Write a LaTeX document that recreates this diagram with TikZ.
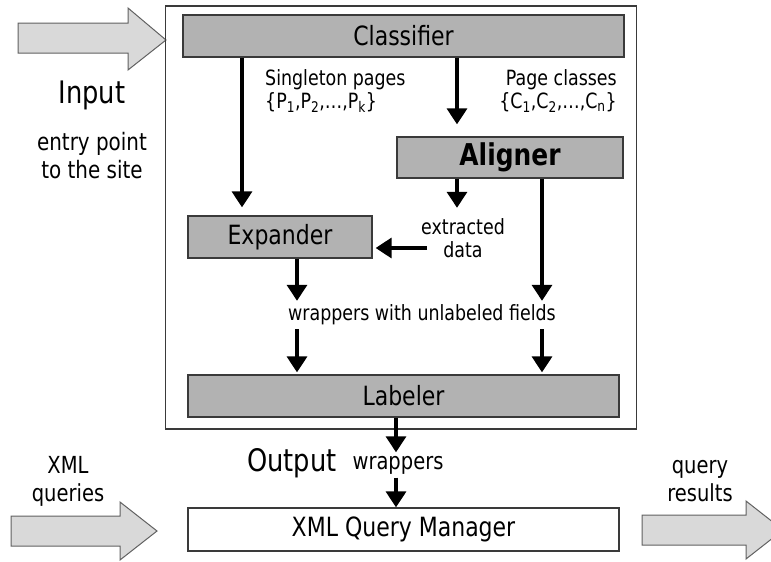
\documentclass[tikz,border=0pt]{standalone}
\usepackage{fontspec}
\setmainfont{DejaVu Sans}[FakeStretch=0.83]
\usetikzlibrary{arrows.meta}
\definecolor{boxgray}{HTML}{B2B2B2}
\definecolor{arrgray}{HTML}{D9D9D9}
\definecolor{edgec}{HTML}{3A3A3A}
\begin{document}
\begin{tikzpicture}[x=1pt,y=-1pt,
  proc/.style={draw=edgec, line width=1.3pt, fill=boxgray, inner sep=0pt, font=\fontsize{26.5}{30}\selectfont},
  arr/.style={line width=3.5pt, -{Triangle[width=20pt,length=16pt]}},
  lbl/.style={inner sep=0pt, font=\fontsize{21}{23}\selectfont},
  side/.style={inner sep=0pt, align=center, font=\fontsize{23.5}{28}\selectfont},
  bigtext/.style={inner sep=0pt, font=\fontsize{31}{34}\selectfont},
  big/.style={draw=edgec!80, line width=1pt, fill=arrgray}]
\path[use as bounding box] (0,0) rectangle (771,562);
\begin{scope}
\clip (0,0) rectangle (771,562);
% big block arrows
\draw[big] (18,23) -- (128,23) -- (128,8) -- (166,40) -- (128,70) -- (128,53) -- (18,53) -- cycle;
\draw[big] (11,516) -- (120,516) -- (120,502) -- (157,531) -- (120,560) -- (120,546) -- (11,546) -- cycle;
\draw[big] (642,515) -- (746,515) -- (746,501) -- (783,530) -- (746,559) -- (746,545) -- (642,545) -- cycle;
\end{scope}
% outer frame
\node[draw=edgec, line width=1.3pt, minimum width=471pt, minimum height=423pt, inner sep=0pt] (frame) at (401,217.5) {};
% process boxes
\node[proc, minimum width=441pt, minimum height=42pt] (cls) at (403.5,36) {Classifier};
\node[proc, minimum width=226pt, minimum height=41pt, font=\fontsize{30}{32}\selectfont\bfseries] (ali) at (510,157.5) {Aligner};
\node[proc, minimum width=184pt, minimum height=42pt] (exp) at (280,237) {Expander};
\node[proc, minimum width=431pt, minimum height=42pt] (lab) at (403.5,396) {Labeler};
\node[proc, fill=white, minimum width=431pt, minimum height=43pt] (qm) at (403.5,529.5) {XML Query Manager};
% labels
\node[lbl, anchor=west, align=left] (sing) at (265,91) {Singleton pages\\\{P\textsubscript{1},P\textsubscript{2},…,P\textsubscript{k}\}};
\node[lbl, anchor=east, align=right] (pcl) at (617,91) {Page classes\\\{C\textsubscript{1},C\textsubscript{2},…,C\textsubscript{n}\}};
\node[lbl, align=center, minimum height=60pt] (ext) at (463,238) {extracted\\data};
\node[lbl, minimum height=28pt] (wuf) at (422,315) {wrappers with unlabeled fields};
\node[inner sep=0pt, minimum height=25pt, font=\fontsize{23.5}{26}\selectfont] (wr) at (398,465) {wrappers};
\node[bigtext] (out) at (292,463) {Output};
\node[bigtext] (inp) at (92,95) {Input};
\node[side, font=\fontsize{24}{28}\selectfont] (entry) at (92,156) {entry point\\to the site};
\node[side] (xq) at (68,481) {XML\\queries};
\node[side] (qr) at (700,481) {query\\results};
\coordinate (extl) at (427,248);
% connectors
\draw[arr, shorten >=8pt] (242,0 |- cls.south) -- (242,0 |- exp.north);
\draw[arr, shorten >=12pt] (457,0 |- cls.south) -- (457,0 |- ali.north);
\draw[arr] (457,0 |- ali.south) -- (457,0 |- ext.north);
\draw[arr, shorten >=3pt] (extl) -- (exp.east |- extl);
\draw[arr] (297,0 |- exp.south) -- (297,0 |- wuf.north);
\draw[arr] (542,0 |- ali.south) -- (542,0 |- wuf.north);
\draw[arr, shorten >=2pt] (297,0 |- wuf.south) -- (297,0 |- lab.north);
\draw[arr, shorten >=2pt] (542,0 |- wuf.south) -- (542,0 |- lab.north);
\draw[arr] (396,0 |- lab.south) -- (396,0 |- wr.north);
\draw[arr] (396,0 |- wr.south) -- (396,0 |- qm.north);
\end{tikzpicture}
\end{document}
